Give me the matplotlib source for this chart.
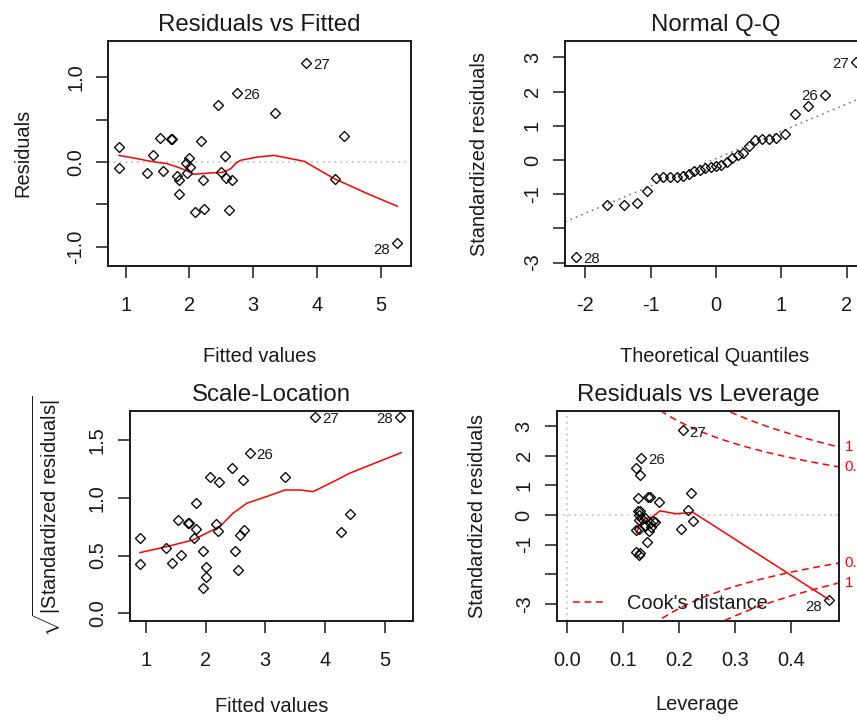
import numpy as np
import matplotlib
matplotlib.use("Agg")
import matplotlib.pyplot as plt

plt.rcParams['font.family'] = ['Liberation Sans', 'DejaVu Sans']
plt.rcParams['mathtext.fontset'] = 'custom'
plt.rcParams['mathtext.rm'] = 'Liberation Sans'
plt.rcParams['mathtext.it'] = 'Liberation Sans:italic'
plt.rcParams['mathtext.bf'] = 'Liberation Sans:bold'

# ---------------- data ----------------
# Panel 1: Residuals vs Fitted
fitted1 = [0.895, 0.895, 1.34, 1.43, 1.54, 1.586, 1.71, 1.73, 1.80, 1.84, 1.84,
           1.94, 1.957, 1.99, 2.01, 2.08, 2.18, 2.21, 2.23, 2.45, 2.50, 2.55,
           2.57, 2.62, 2.66, 2.74, 3.34, 3.83, 4.28, 4.43, 5.26]
resid1 = [0.176, -0.067, -0.125, 0.078, 0.286, -0.102, 0.267, 0.267, -0.169,
          -0.216, -0.38, -0.012, -0.125, 0.047, -0.059, -0.588, 0.247, -0.216,
          -0.553, 0.678, -0.118, 0.067, -0.188, -0.569, -0.216, 0.82, 0.584,
          1.17, -0.2, 0.302, -0.953]
smooth1_x = [0.895, 1.13, 1.39, 1.65, 1.81, 1.94, 2.07, 2.33, 2.52, 2.65, 2.73,
             2.80, 3.07, 3.33, 3.54, 3.80, 4.27, 4.79, 5.26]
smooth1_y = [0.078, 0.047, 0.008, -0.02, -0.059, -0.098, -0.145, -0.129, -0.122,
             -0.078, -0.012, 0.02, 0.059, 0.078, 0.047, 0.008, -0.196, -0.373,
             -0.522]
ids1 = ["26", "27", "28"]
ids1_idx = [25, 27, 30]

# Panel 2: Normal Q-Q
qq_theo = [-2.141, -1.660, -1.401, -1.211, -1.057, -0.925, -0.807, -0.700,
           -0.600, -0.506, -0.416, -0.330, -0.245, -0.162, -0.081, 0.000,
           0.081, 0.162, 0.245, 0.330, 0.416, 0.506, 0.600, 0.700, 0.807,
           0.925, 1.057, 1.211, 1.401, 1.660, 2.141]
qq_std = [-2.85, -1.33, -1.32, -1.27, -0.91, -0.54, -0.49, -0.49, -0.49, -0.46,
          -0.41, -0.31, -0.29, -0.24, -0.20, -0.18, -0.15, -0.05, 0.07, 0.15,
          0.20, 0.41, 0.59, 0.60, 0.61, 0.65, 0.75, 1.35, 1.58, 1.90, 2.88]
qq_line_intercept = 0.04
qq_line_slope = 0.80
ids2 = ["28", "26", "27"]
ids2_idx = [0, 29, 30]

# Panel 3: Scale-Location
fitted3 = [0.905, 0.905, 1.339, 1.434, 1.59, 1.535, 1.70, 1.72, 1.84, 1.84, 1.81,
           1.95, 2.01, 2.01, 1.96, 2.07, 2.225, 2.175, 2.21, 2.45, 2.49, 2.55,
           2.58, 2.62, 2.65, 2.74, 3.33, 3.83, 4.26, 4.41, 5.25]
sqrt_std3 = [0.654, 0.424, 0.562, 0.438, 0.502, 0.805, 0.781, 0.781, 0.957,
             0.732, 0.649, 0.539, 0.398, 0.317, 0.216, 1.177, 1.136, 0.770,
             0.710, 1.255, 0.539, 0.372, 0.678, 1.151, 0.718, 1.39, 1.177,
             1.70, 0.704, 0.857, 1.70]
smooth3_x = [0.905, 1.35, 1.79, 2.01, 2.24, 2.46, 2.69, 3.02, 3.33, 3.58, 3.80,
             4.14, 4.41, 4.69, 5.27]
smooth3_y = [0.525, 0.577, 0.634, 0.692, 0.75, 0.866, 0.952, 1.01, 1.067, 1.067,
             1.053, 1.14, 1.212, 1.27, 1.39]
ids3 = ["26", "27", "28"]
ids3_idx = [25, 27, 30]

# Panel 4: Residuals vs Leverage
leverage = [0.2065, 0.1328, 0.1238, 0.1297, 0.1268, 0.1447, 0.1477, 0.1644,
            0.2212, 0.2165, 0.2242, 0.2033, 0.1268, 0.1297, 0.1286, 0.1238,
            0.1280, 0.1387, 0.1477, 0.1537, 0.1566, 0.1507, 0.1465, 0.1435,
            0.1238, 0.1286, 0.1310, 0.4680, 0.128, 0.140, 0.133]
lev_std = [2.86, 1.92, 1.58, 1.35, 0.58, 0.62, 0.62, 0.43, 0.73, 0.17, -0.19,
           -0.47, 0.15, 0.12, -0.17, -0.51, -0.49, -0.37, -0.26, -0.19, -0.23,
           -0.42, -0.53, -0.92, -1.24, -1.35, -1.30, -2.86, 0.0, -0.10, -0.13]
smooth4_x = [0.124, 0.130, 0.139, 0.152, 0.166, 0.195, 0.225, 0.468]
smooth4_y = [-0.60, -0.33, -0.12, -0.07, 0.14, 0.04, 0.09, -2.86]
ids4 = ["27", "26", "28"]
ids4_idx = [0, 1, 27]
cook_levels = [0.5, 1]
cook_labels = ["0.5", "1"]
n_params = 5

# ---------------- layout ----------------
W, H = 857, 720
fig = plt.figure(figsize=(W / 100, H / 100), dpi=100)

FS = 14.4
TFS = 17.3
IFS = 10.8
INK = '#1a1a1a'


def add_ax(l, t, r, b):
    return fig.add_axes([l / W, 1 - b / H, (r - l) / W, (b - t) / H])


def ftext(x, y, s, **kw):
    return fig.text(x / W, 1 - y / H, s, color=INK, **kw)


def style(ax, xlim, ylim, xt, xtl, yt, ytl):
    ax.set_xlim(xlim)
    ax.set_ylim(ylim)
    ax.set_xticks(xt)
    ax.set_xticklabels(xtl)
    ax.set_yticks(yt)
    ax.set_yticklabels(ytl, rotation=90, va='center')
    ax.tick_params(length=8.6, width=1.1, labelsize=FS, color=INK,
                   labelcolor=INK)
    ax.tick_params(axis='x', pad=13.5)
    ax.tick_params(axis='y', pad=8)
    for s in ax.spines.values():
        s.set_linewidth(1.4)
        s.set_color(INK)


def points(ax, x, y):
    ax.plot(x, y, linestyle='none', marker='D', ms=4.8, mfc='none',
            mec='black', mew=0.95, zorder=3)


def id_labels(ax, x, y, labels, idx, dys):
    xs = [x[i] for i in idx]
    mid = (min(xs) + max(xs)) / 2
    for lab, i, dy in zip(labels, idx, dys):
        left = x[i] > mid
        ax.annotate(lab, xy=(x[i], y[i]), xytext=(-5 if left else 5, dy),
                    textcoords='offset points',
                    ha='right' if left else 'left', va='center',
                    fontsize=IFS, color=INK, annotation_clip=False)


dot_gray = dict(color='#BEBEBE', lw=1.1, dashes=(1.2, 2.6))

# Panel 1
ax1 = add_ax(108.3, 40.7, 410.7, 265.7)
style(ax1, (0.727, 5.47), (-1.224, 1.432), [1, 2, 3, 4, 5],
      ['1', '2', '3', '4', '5'], [-1, -0.5, 0, 0.5, 1],
      ['-1.0', '', '0.0', '', '1.0'])
ax1.axhline(0, **dot_gray, zorder=1)
points(ax1, fitted1, resid1)
ax1.plot(smooth1_x, smooth1_y, color='red', lw=1.1, zorder=2)
id_labels(ax1, fitted1, resid1, ids1, ids1_idx, [-1.5, -1.5, -5])
ftext(259.5, 30.7, 'Residuals vs Fitted', ha='center', va='baseline', fontsize=TFS)
ftext(259.5, 361.7, 'Fitted values', ha='center', va='baseline', fontsize=FS)
ftext(28.3, 153.2, 'Residuals', ha='center', va='baseline', rotation=90,
      rotation_mode='anchor', fontsize=FS)

# Panel 2
ax2 = add_ax(565, 40.7, 867, 265.7)
style(ax2, (-2.31, 2.31), (-3.093, 3.49), [-2, -1, 0, 1, 2],
      ['-2', '-1', '0', '1', '2'], [-3, -2, -1, 0, 1, 2, 3],
      ['-3', '', '-1', '0', '1', '2', '3'])
ax2.axline((0, qq_line_intercept), slope=qq_line_slope, color='#7F7F7F',
           lw=1.1, dashes=(1.2, 2.6), zorder=1)
points(ax2, qq_theo, qq_std)
id_labels(ax2, qq_theo, qq_std, ids2, ids2_idx, [-1.0, -1.0, -2.0])
ftext(716, 30.7, 'Normal Q-Q', ha='center', va='baseline', fontsize=TFS)
ftext(715, 361.7, 'Theoretical Quantiles', ha='center', va='baseline', fontsize=FS)
ftext(485, 153.5, 'Standardized residuals', ha='center', va='baseline',
      rotation=90, rotation_mode='anchor', fontsize=FS)

# Panel 3
ax3 = add_ax(130, 410.7, 413.3, 620.7)
style(ax3, (0.738, 5.473), (-0.064, 1.753), [1, 2, 3, 4, 5],
      ['1', '2', '3', '4', '5'], [0, 0.5, 1.0, 1.5],
      ['0.0', '0.5', '1.0', '1.5'])
points(ax3, fitted3, sqrt_std3)
ax3.plot(smooth3_x, smooth3_y, color='red', lw=1.1, zorder=2)
id_labels(ax3, fitted3, sqrt_std3, ids3, ids3_idx, [-1.5, -1.5, -1.5])
ftext(271.7, 400.7, 'Scale-Location', ha='center', va='baseline', fontsize=TFS)
ftext(271.7, 711.7, 'Fitted values', ha='center', va='baseline', fontsize=FS)
ftext(56.7, 515.7, r'$\sqrt{|\mathrm{Standardized\ residuals}|}$', ha='center',
      va='baseline', rotation=90, rotation_mode='anchor', fontsize=FS)

# Panel 4
ax4 = add_ax(556.7, 410.7, 839.3, 620.7)
xlim4 = (-0.0187, 0.4867)
style(ax4, xlim4, (-3.575, 3.527), [0, 0.1, 0.2, 0.3, 0.4],
      ['0.0', '0.1', '0.2', '0.3', '0.4'], [-3, -2, -1, 0, 1, 2, 3],
      ['-3', '', '-1', '0', '1', '2', '3'])
ax4.axhline(0, **dot_gray, zorder=1)
ax4.axvline(0, **dot_gray, zorder=1)
hh = np.linspace(max(leverage) / 100, xlim4[1], 101)
for lvl, lab in zip(cook_levels, cook_labels):
    cy = np.sqrt(lvl * n_params * (1 - hh) / hh)
    ln, = ax4.plot(hh, cy, color='red', lw=1.1, dashes=(4.5, 3.0), zorder=2)
    ax4.plot(hh, -cy, color='red', lw=1.1, dashes=(4.5, 3.0), zorder=2)
    for sgn in (1, -1):
        ax4.annotate(lab, xy=(xlim4[1], sgn * cy[-1]), xytext=(4, 0),
                     textcoords='offset points', ha='left', va='center',
                     fontsize=IFS, color='red', annotation_clip=False)
points(ax4, leverage, lev_std)
ax4.plot(smooth4_x, smooth4_y, color='red', lw=1.1, zorder=2)
id_labels(ax4, leverage, lev_std, ids4, ids4_idx, [-1.5, -1.5, -5])
ax4.legend([ln], ["Cook's distance"], loc='lower left', frameon=False,
           bbox_to_anchor=(0.058, 0.035), borderpad=0, borderaxespad=0,
           handlelength=1.6, handletextpad=1.1, fontsize=FS,
           labelcolor=INK)
ftext(698, 400.7, 'Residuals vs Leverage', ha='center', va='baseline', fontsize=TFS)
ftext(697, 710, 'Leverage', ha='center', va='baseline', fontsize=FS)
ftext(483.3, 515.8, 'Standardized residuals', ha='center', va='baseline',
      rotation=90, rotation_mode='anchor', fontsize=FS)

fig.savefig('out.png', dpi=100)
